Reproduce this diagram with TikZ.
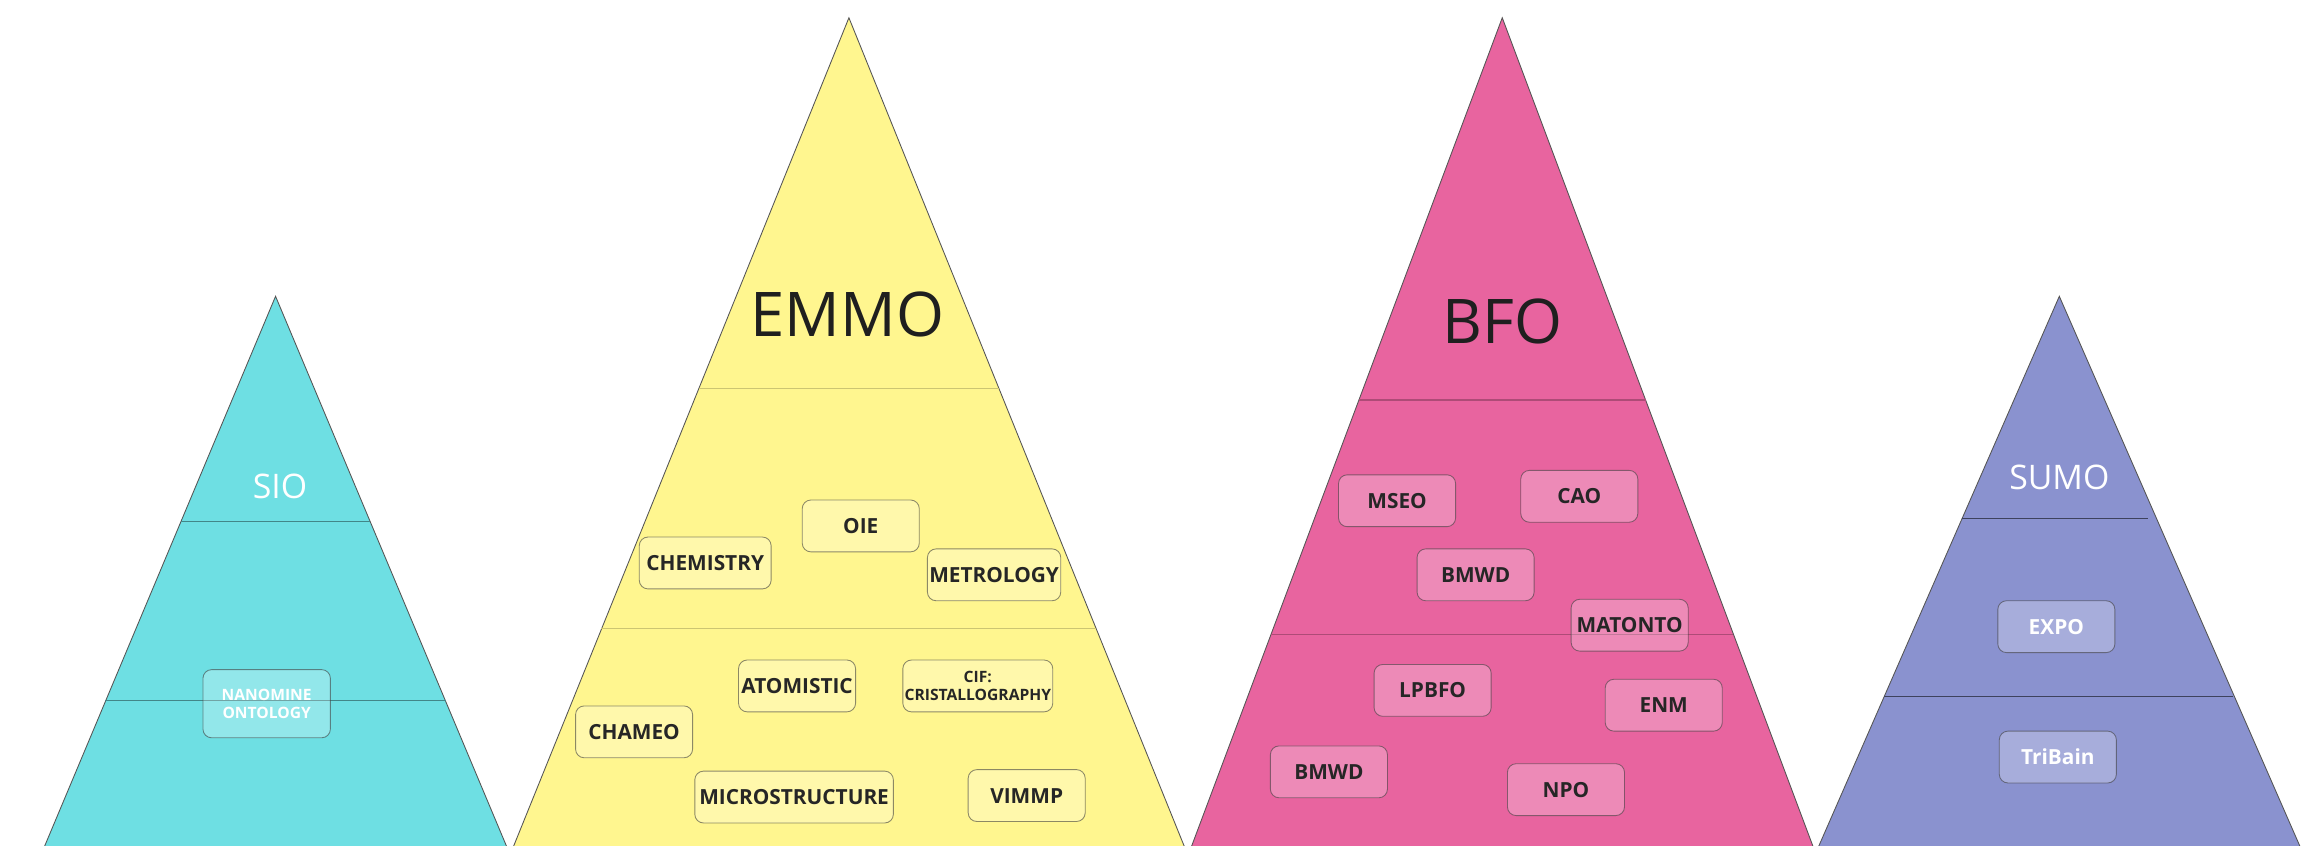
\documentclass[tikz,border=0pt]{standalone}
\usepackage{fontspec}
\setmainfont{Open Sans}
\usepackage{xcolor}
\usepackage{tikz}
\definecolor{siocyan}{RGB}{110,223,227}
\definecolor{emmoyellow}{RGB}{255,246,143}
\definecolor{bfopink}{RGB}{232,100,159}
\definecolor{sumoblue}{RGB}{138,146,207}
\definecolor{edgegray}{RGB}{85,85,85}

\tikzset{
	pyramid/.style = {draw = edgegray, line width = 0.5pt},
	layer/.style = {line width = 0.6pt},
	onto/.style = {draw = black!75, draw opacity = 0.6, rounded corners = 5pt, fill = white, fill opacity = 0.25, text opacity = 1, minimum width = 2.37cm, minimum height = 1.05cm, inner sep = 1pt, font = \bfseries\fontsize{12}{13}\selectfont, text = black!85, line width = 0.5pt},
	small/.style = {font = \bfseries\fontsize{9}{10.5}\selectfont, align = center},
	light/.style = {text = white!92},
	bigtitle/.style = {font = \fontsize{35.5}{37}\selectfont, text = black!88},
	midtitle/.style = {font = \fontsize{19.5}{21}\selectfont, text = white!92}
}

\begin{document}
\begin{tikzpicture}[x = 0.03cm, y = -0.03cm]
	\useasboundingbox (0,0) rectangle (1568,571);
	\clip (0,0) rectangle (1568,571);

	\filldraw [pyramid, fill = siocyan] (186,200) -- (354,600) -- (18,600) -- cycle;
	\draw [layer, siocyan!60!black] (122,352) -- (250,352);
	\draw [layer, siocyan!60!black] (71,473) -- (301,473);

	\filldraw [pyramid, fill = emmoyellow] (573,12) -- (811,600) -- (335,600) -- cycle;
	\draw [layer, emmoyellow!80!black] (472,262) -- (674,262);
	\draw [layer, emmoyellow!80!black] (406,424) -- (740,424);

	\filldraw [pyramid, fill = bfopink] (1014,12) -- (1234.5,600) -- (793.5,600) -- cycle;
	\draw [layer, bfopink!75!black] (917,270) -- (1111,270);
	\draw [layer, bfopink!75!black] (858,428) -- (1170,428);

	\filldraw [pyramid, fill = sumoblue] (1390,200) -- (1565,600) -- (1215,600) -- cycle;
	\draw [layer, sumoblue!45!black] (1324,350) -- (1450,350);
	\draw [layer, sumoblue!45!black] (1272,470) -- (1507,470);

	\node (sio) at (189,328) [midtitle] {SIO};
	\node (emmo) at (572,212) [bigtitle] {EMMO};
	\node (bfo) at (1014,217) [bigtitle] {BFO};
	\node (sumo) at (1390,322) [midtitle] {SUMO};

	\node (nanomine) at (180,475) [onto, small, light, minimum width = 2.58cm, minimum height = 1.38cm] {NANOMINE\\ONTOLOGY};

	\node (chemistry) at (476,380) [onto, minimum width = 2.67cm] {CHEMISTRY};
	\node (oie) at (581,355) [onto] {OIE};
	\node (metrology) at (671,388) [onto, minimum width = 2.7cm] {METROLOGY};
	\node (atomistic) at (538,463) [onto] {ATOMISTIC};
	\node (cif) at (660,463) [onto, small, minimum width = 3.03cm] {CIF:\\CRISTALLOGRAPHY};
	\node (chameo) at (428,494) [onto] {CHAMEO};
	\node (microstructure) at (536,538) [onto, minimum width = 4.02cm] {MICROSTRUCTURE};
	\node (vimmp) at (693,537) [onto] {VIMMP};

	\node (mseo) at (943,338) [onto] {MSEO};
	\node (cao) at (1066,335) [onto] {CAO};
	\node (bmwda) at (996,388) [onto] {BMWD};
	\node (matonto) at (1100,422) [onto] {MATONTO};
	\node (lpbfo) at (967,466) [onto] {LPBFO};
	\node (enm) at (1123,476) [onto] {ENM};
	\node (bmwdb) at (897,521) [onto] {BMWD};
	\node (npo) at (1057,533) [onto] {NPO};

	\node (expo) at (1388,423) [onto, light] {EXPO};
	\node (tribain) at (1389,511) [onto, light] {TriBain};
\end{tikzpicture}
\end{document}
